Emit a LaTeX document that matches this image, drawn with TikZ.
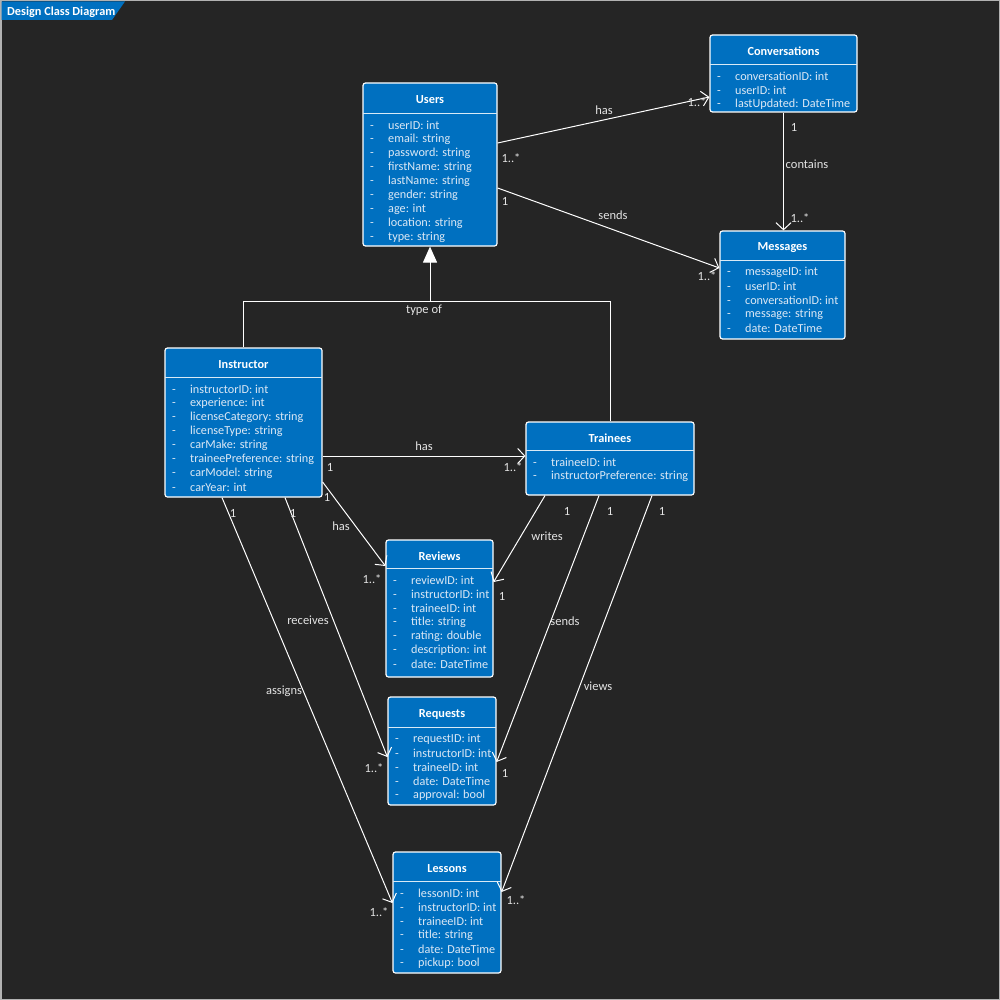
\documentclass[tikz,border=0pt]{standalone}
\usepackage{fontspec}
\setmainfont{Carlito}
\usetikzlibrary{arrows.meta,fit}

\definecolor{canvas}{HTML}{252525}
\definecolor{classblue}{HTML}{0070C0}
\definecolor{attrtext}{HTML}{DCE8F5}
\definecolor{labeltext}{HTML}{E4E4E4}

\tikzset{
  classbox/.style={draw=white, line width=1.2pt, fill=classblue, rounded corners=2.5pt, inner sep=0pt},
  classtitle/.style={text=white, font=\fontsize{12.3}{14}\selectfont\bfseries, inner sep=0pt},
  sepline/.style={draw=white!85!classblue, line width=0.8pt},
  attr/.style={text=attrtext, font=\fontsize{12.2}{14}\selectfont, anchor=west, inner sep=0pt},
  conn/.style={draw=white, line width=1pt},
  assoc/.style={conn, -{Straight Barb[length=7pt, width=15pt]}},
  inherit/.style={conn, -{Triangle[length=16pt, width=14pt, fill=white]}},
  lbl/.style={text=labeltext, font=\fontsize{12.5}{14}\selectfont, inner sep=0pt},
}

% name, x1, y1, x2, y2, separator y, title, attribute rows
\newcommand\umlclass[8]{%
  \node[classbox, fit={(#2,#3) (#4,#5)}] (#1) {};
  \node[classtitle] (#1-title) at ({(#2+#4)/2},{(#3+#6)/2+2}) {#7};
  \draw[sepline] (#2,#6) -- (#4,#6);
  \foreach \t [count=\i] in {#8} {
    \node[attr] (#1-\i) at ({#2+7},{#6+12+(\i-1)*14}) {\makebox[18pt][l]{-}\t};
  }
}

\begin{document}
\begin{tikzpicture}[x=1pt, y=-1pt]
  \useasboundingbox (0,0) rectangle (1000,1000);
  \fill[canvas] (0,0) rectangle (1000,1000);
  \draw[gray!60, line width=1.5pt] (0.75,0.75) rectangle (999.25,999.25);

  % diagram title tab
  \fill[classblue] (1.5,1.5) -- (125,1.5) -- (112,20) -- (1.5,20) -- cycle;
  \node[classtitle, anchor=west] (diagtitle) at (7,12) {Design Class Diagram};

  % classes
  \umlclass{users}{363}{83}{497}{246}{113}{Users}%
    {userID: int, email: string, password: string, firstName: string, lastName: string, gender: string, age: int, location: string, type: string}
  \umlclass{conversations}{710}{35}{857}{112}{64}{Conversations}%
    {conversationID: int, userID: int, lastUpdated: DateTime}
  \umlclass{messages}{720}{231}{845}{339}{260}{Messages}%
    {messageID: int, userID: int, conversationID: int, message: string, date: DateTime}
  \umlclass{instructor}{165}{348}{322}{497}{377}{Instructor}%
    {instructorID: int, experience: int, licenseCategory: string, licenseType: string, carMake: string, traineePreference: string, carModel: string, carYear: int}
  \umlclass{trainees}{526}{422}{694}{495}{450}{Trainees}%
    {traineeID: int, instructorPreference: string}
  \umlclass{reviews}{386}{540}{493}{677}{568}{Reviews}%
    {reviewID: int, instructorID: int, traineeID: int, title: string, rating: double, description: int, date: DateTime}
  \umlclass{requests}{388}{697}{496}{805}{727}{Requests}%
    {requestID: int, instructorID: int, traineeID: int, date: DateTime, approval: bool}
  \umlclass{lessons}{393}{852}{501}{973}{881}{Lessons}%
    {lessonID: int, instructorID: int, traineeID: int, title: string, date: DateTime, pickup: bool}

  % generalisation: Instructor and Trainees are types of Users
  \coordinate (inh) at (430,301);
  \draw[conn] (instructor.north) -- (instructor.north |- inh) -- (trainees.north |- inh) -- (trainees.north);
  \draw[inherit] (inh) -- (users.south);
  \node[lbl] (l-typeof) at (424,310) {type of};

  % Users -- Conversations
  \draw[assoc] ([yshift=21.5pt]users.east) -- ([yshift=-23.5pt]conversations.west);
  \node[lbl] (l-has1) at (604,110) {has};
  \node[lbl] (m-has1a) at (511,158) {1..*};
  \node[lbl] (m-has1b) at (697,102) {1..*};

  % Users -- Messages
  \draw[assoc] ([yshift=-23.5pt]users.east) -- ([yshift=17pt]messages.west);
  \node[lbl] (l-sends1) at (613,215) {sends};
  \node[lbl] (m-sends1a) at (505,201) {1};
  \node[lbl] (m-sends1b) at (707,276) {1..*};

  % Conversations -- Messages
  \draw[assoc] (conversations.south) -- (conversations.south |- messages.north);
  \node[lbl] (l-contains) at (807,164) {contains};
  \node[lbl] (m-containsa) at (794,127) {1};
  \node[lbl] (m-containsb) at (800,218) {1..*};

  % Instructor -- Trainees
  \coordinate (ins-tr) at ([yshift=-33.5pt]instructor.east);
  \draw[assoc] (ins-tr) -- (ins-tr -| trainees.west);
  \node[lbl] (l-has2) at (424,446) {has};
  \node[lbl] (m-has2a) at (330,467) {1};
  \node[lbl] (m-has2b) at (513,467) {1..*};

  % Instructor -- Reviews
  \draw[assoc] ([yshift=-59.5pt]instructor.east) -- ([yshift=42.5pt]reviews.west);
  \node[lbl] (l-has3) at (341,526) {has};
  \node[lbl] (m-has3a) at (327,497) {1};
  \node[lbl] (m-has3b) at (372,579) {1..*};

  % Trainees -- Reviews
  \draw[assoc] ([xshift=-65pt]trainees.south) -- ([yshift=26.5pt]reviews.east);
  \node[lbl] (l-writes) at (547,536) {writes};
  \node[lbl] (m-writesa) at (567,511) {1};
  \node[lbl] (m-writesb) at (502,596) {1};

  % Instructor -- Requests
  \draw[assoc] ([xshift=41.5pt]instructor.south) -- ([yshift=-6pt]requests.west);
  \node[lbl] (l-receives) at (308,620) {receives};
  \node[lbl] (m-receivesa) at (293,513) {1};
  \node[lbl] (m-receivesb) at (374,768) {1..*};

  % Trainees -- Requests
  \draw[assoc] ([xshift=-11pt]trainees.south) -- ([yshift=-11pt]requests.east);
  \node[lbl] (l-sends2) at (565,621) {sends};
  \node[lbl] (m-sends2a) at (610,511) {1};
  \node[lbl] (m-sends2b) at (505,773) {1};

  % Instructor -- Lessons
  \draw[assoc] ([xshift=-21.5pt]instructor.south) -- ([yshift=9.5pt]lessons.west);
  \node[lbl] (l-assigns) at (284,691) {assigns};
  \node[lbl] (m-assignsa) at (233,513) {1};
  \node[lbl] (m-assignsb) at (379,912) {1..*};

  % Trainees -- Lessons
  \draw[assoc] ([xshift=42pt]trainees.south) -- ([yshift=20.5pt]lessons.east);
  \node[lbl] (l-views) at (598,686) {views};
  \node[lbl] (m-viewsa) at (662,511) {1};
  \node[lbl] (m-viewsb) at (516,900) {1..*};
\end{tikzpicture}
\end{document}
